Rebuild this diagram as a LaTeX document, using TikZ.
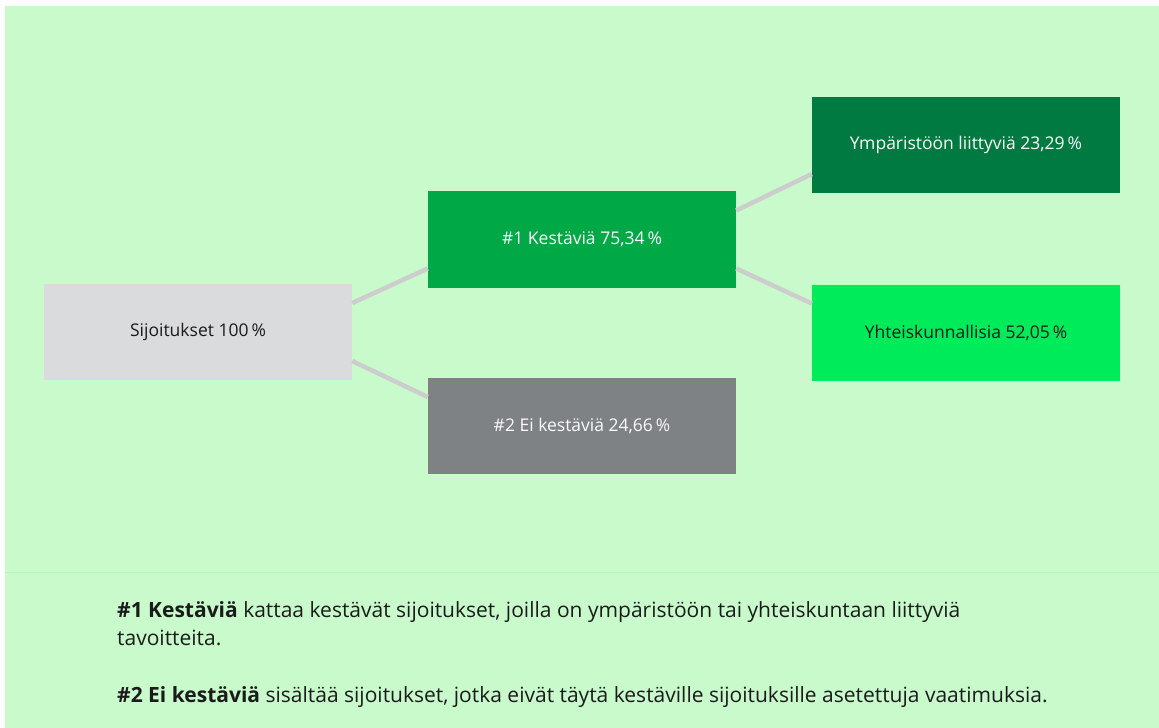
\documentclass[tikz,border=0pt]{standalone}
\usepackage{fontspec}
\setmainfont{Open Sans}
\definecolor{bggreen}{HTML}{C8FACC}
\definecolor{rulegreen}{HTML}{B4F5BB}
\definecolor{boxgray}{HTML}{DADBDD}
\definecolor{boxgreen}{HTML}{00A846}
\definecolor{boxdark}{HTML}{007A40}
\definecolor{boxbright}{HTML}{00EB5A}
\definecolor{boxslate}{HTML}{7E8285}
\definecolor{linkgray}{HTML}{CDCDCD}
\definecolor{inkdark}{HTML}{1B1B1B}
\tikzset{
  share/.style={minimum width=308bp, minimum height=96bp, inner sep=0pt, font=\fontsize{17.5bp}{20bp}\selectfont},
  sharelight/.style={share, fill=#1, text=inkdark},
  sharedark/.style={share, fill=#1, text=white!90!boxgray},
  link/.style={line width=4.5bp, draw=linkgray, line cap=butt},
  noteline/.style={anchor=base west, inner sep=0pt, font=\fontsize{21bp}{25bp}\selectfont, text=inkdark},
}

\begin{document}
\begin{tikzpicture}[x=1bp, y=-1bp]
\useasboundingbox (0,0) rectangle (1159,728);
\fill[bggreen] (5,6) rectangle (1159,728);
\draw[rulegreen, line width=1bp] (5,572) -- (1159,572);
\node[sharelight=boxgray] (sijo) at (198,332) {Sijoitukset 100\,\%};
\node[sharedark=boxgreen] (kest) at (582,239.5) {\#1 Kestäviä 75,34\,\%};
\node[sharedark=boxslate] (eikest) at (582,426) {\#2 Ei kestäviä 24,66\,\%};
\node[sharedark=boxdark] (ymp) at (966,145) {Ympäristöön liittyviä 23,29\,\%};
\node[sharelight=boxbright] (yht) at (966,332.5) {Yhteiskunnallisia 52,05\,\%};
\draw[link] ([yshift=29bp]sijo.east) -- ([yshift=-29bp]kest.west);
\draw[link] ([yshift=-29bp]sijo.east) -- ([yshift=29bp]eikest.west);
\draw[link] ([yshift=-29bp]kest.east) -- ([yshift=29bp]yht.west);
\draw[link] ([yshift=29bp]kest.east) -- ([yshift=-29bp]ymp.west);
\node[noteline] (note1) at (117,617) {\textbf{\#1 Kestäviä} kattaa kestävät sijoitukset, joilla on ympäristöön tai yhteiskuntaan liittyviä};
\node[noteline] (note1b) at (117,645) {tavoitteita.};
\node[noteline] (note2) at (117,702) {\textbf{\#2 Ei kestäviä} sisältää sijoitukset, jotka eivät täytä kestäville sijoituksille asetettuja vaatimuksia.};
\end{tikzpicture}
\end{document}
